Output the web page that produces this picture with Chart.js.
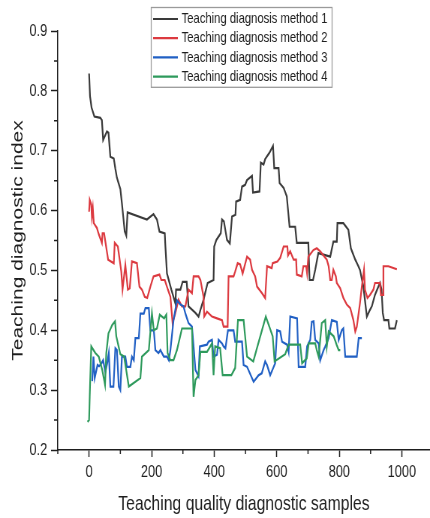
<!DOCTYPE html>
<html>
<head>
<meta charset="utf-8">
<title>Teaching diagnostic index</title>
<script src="https://cdn.jsdelivr.net/npm/chart.js@4.4.1/dist/chart.umd.min.js"></script>
<style>
  html, body { margin: 0; padding: 0; background: #fff; overflow: hidden; }
  #wrap { width: 430px; height: 518px; }
  /* the source figure is squeezed sideways, so the canvas is drawn wider and shown at 430px */
  #chart { display: block; width: 430px; height: 518px; }
</style>
</head>
<body>
<div id="wrap"><canvas id="chart" width="573" height="518" style="width:430px;height:518px"></canvas></div>
<script>
// series labels
const seriesNames = [
  'Teaching diagnosis method 1',
  'Teaching diagnosis method 2',
  'Teaching diagnosis method 3',
  'Teaching diagnosis method 4'
];
const seriesColors = ['#3a3a3a', '#dc3a40', '#2160c4', '#2e9a5c'];

// method 1 (black)
const m1X = [0, 3, 8, 17, 36, 41, 45, 57, 62, 68, 79, 84, 89, 100, 105, 114, 119, 123, 185, 206, 217, 225, 242, 244, 249, 263, 276, 278, 292, 299, 312, 318, 340, 350, 356, 366, 371, 379, 398, 400, 407, 421, 425, 431, 441, 450, 457, 468, 470, 483, 489, 499, 505, 521, 524, 545, 549, 558, 563, 577, 588, 592, 606, 609, 622, 632, 641, 659, 664, 701, 705, 716, 723, 733, 771, 781, 792, 794, 813, 829, 837, 851, 861, 866, 877, 888, 896, 904, 914, 925, 930, 935, 939, 943, 957, 960, 978, 984];
const m1Y = [0.829, 0.791, 0.772, 0.757, 0.755, 0.751, 0.718, 0.732, 0.730, 0.690, 0.687, 0.670, 0.655, 0.636, 0.612, 0.565, 0.558, 0.597, 0.585, 0.594, 0.585, 0.565, 0.562, 0.540, 0.495, 0.468, 0.445, 0.468, 0.468, 0.481, 0.481, 0.440, 0.429, 0.423, 0.434, 0.451, 0.462, 0.479, 0.484, 0.540, 0.551, 0.562, 0.585, 0.582, 0.551, 0.545, 0.590, 0.593, 0.615, 0.618, 0.640, 0.643, 0.651, 0.658, 0.630, 0.632, 0.680, 0.677, 0.686, 0.697, 0.708, 0.671, 0.671, 0.646, 0.638, 0.624, 0.573, 0.573, 0.546, 0.546, 0.484, 0.484, 0.501, 0.529, 0.523, 0.548, 0.548, 0.579, 0.579, 0.568, 0.537, 0.518, 0.507, 0.501, 0.473, 0.423, 0.432, 0.440, 0.459, 0.473, 0.479, 0.468, 0.429, 0.417, 0.417, 0.403, 0.403, 0.417];

// method 2 (red)
const m2X = [0, 2, 7, 9, 12, 15, 25, 30, 41, 43, 48, 61, 79, 82, 92, 103, 107, 116, 124, 130, 137, 153, 161, 169, 178, 186, 196, 206, 225, 231, 242, 252, 260, 267, 276, 286, 297, 308, 318, 329, 334, 350, 356, 366, 368, 377, 393, 409, 425, 430, 443, 446, 462, 467, 475, 483, 491, 505, 515, 521, 531, 537, 553, 563, 569, 584, 587, 602, 611, 622, 634, 636, 643, 654, 662, 664, 680, 685, 694, 697, 701, 717, 728, 739, 760, 766, 771, 776, 781, 789, 792, 803, 813, 824, 835, 845, 851, 856, 866, 872, 879, 882, 890, 898, 909, 914, 930, 933, 939, 941, 957, 984];
const m2Y = [0.598, 0.618, 0.610, 0.590, 0.604, 0.579, 0.571, 0.562, 0.546, 0.562, 0.562, 0.518, 0.512, 0.546, 0.540, 0.498, 0.468, 0.509, 0.468, 0.470, 0.515, 0.512, 0.473, 0.468, 0.456, 0.454, 0.473, 0.490, 0.493, 0.484, 0.484, 0.468, 0.456, 0.412, 0.429, 0.451, 0.440, 0.440, 0.468, 0.462, 0.490, 0.490, 0.484, 0.456, 0.423, 0.431, 0.423, 0.420, 0.417, 0.406, 0.406, 0.490, 0.490, 0.498, 0.512, 0.510, 0.495, 0.523, 0.518, 0.501, 0.490, 0.473, 0.462, 0.454, 0.507, 0.504, 0.512, 0.515, 0.521, 0.540, 0.540, 0.525, 0.532, 0.518, 0.518, 0.493, 0.490, 0.507, 0.507, 0.495, 0.523, 0.534, 0.537, 0.532, 0.518, 0.507, 0.484, 0.484, 0.501, 0.490, 0.479, 0.470, 0.454, 0.443, 0.437, 0.417, 0.398, 0.406, 0.445, 0.473, 0.501, 0.468, 0.454, 0.459, 0.468, 0.479, 0.479, 0.459, 0.459, 0.507, 0.507, 0.502];

// method 3 (blue)
const m3X = [10, 14, 18, 27, 32, 40, 45, 52, 58, 63, 68, 78, 84, 89, 95, 100, 105, 116, 121, 132, 137, 143, 148, 159, 164, 175, 180, 191, 196, 207, 212, 222, 228, 239, 249, 255, 260, 270, 281, 292, 302, 308, 318, 329, 340, 350, 354, 377, 382, 393, 398, 409, 414, 425, 430, 436, 444, 462, 467, 489, 494, 505, 526, 542, 552, 563, 569, 579, 595, 601, 611, 617, 633, 638, 643, 665, 670, 691, 697, 707, 712, 718, 723, 734, 739, 750, 755, 766, 776, 792, 798, 808, 813, 819, 856, 862, 872];
const m3Y = [0.315, 0.356, 0.320, 0.342, 0.340, 0.345, 0.350, 0.330, 0.345, 0.362, 0.306, 0.306, 0.370, 0.367, 0.306, 0.300, 0.356, 0.356, 0.339, 0.339, 0.356, 0.350, 0.387, 0.387, 0.428, 0.428, 0.437, 0.437, 0.400, 0.400, 0.367, 0.362, 0.367, 0.356, 0.356, 0.350, 0.367, 0.417, 0.450, 0.443, 0.440, 0.428, 0.412, 0.406, 0.334, 0.323, 0.373, 0.376, 0.381, 0.384, 0.356, 0.359, 0.384, 0.378, 0.373, 0.370, 0.400, 0.400, 0.381, 0.381, 0.342, 0.339, 0.314, 0.325, 0.328, 0.348, 0.342, 0.325, 0.345, 0.400, 0.398, 0.381, 0.376, 0.364, 0.423, 0.420, 0.339, 0.339, 0.373, 0.384, 0.414, 0.415, 0.384, 0.378, 0.350, 0.367, 0.373, 0.387, 0.417, 0.414, 0.384, 0.400, 0.403, 0.356, 0.356, 0.387, 0.387];

// method 4 (green)
const m4X = [-5, 0, 2, 7, 20, 31, 42, 51, 55, 62, 74, 83, 87, 100, 112, 127, 164, 169, 191, 201, 207, 217, 226, 240, 247, 251, 260, 270, 281, 297, 329, 334, 340, 350, 356, 377, 393, 398, 403, 419, 427, 455, 467, 476, 494, 505, 525, 535, 565, 587, 593, 627, 638, 675, 681, 696, 702, 723, 728, 734, 744, 755, 760, 766, 782, 792, 798, 803];
const m4Y = [0.247, 0.250, 0.289, 0.373, 0.362, 0.356, 0.334, 0.309, 0.362, 0.395, 0.409, 0.415, 0.390, 0.360, 0.356, 0.306, 0.320, 0.356, 0.367, 0.428, 0.400, 0.403, 0.426, 0.420, 0.426, 0.362, 0.350, 0.350, 0.367, 0.403, 0.403, 0.289, 0.317, 0.325, 0.364, 0.364, 0.378, 0.325, 0.373, 0.370, 0.325, 0.325, 0.337, 0.417, 0.417, 0.356, 0.348, 0.367, 0.423, 0.390, 0.348, 0.360, 0.376, 0.376, 0.345, 0.353, 0.378, 0.378, 0.367, 0.356, 0.412, 0.417, 0.373, 0.398, 0.390, 0.375, 0.367, 0.367];

// axis ticks
const xTicks = [0, 200, 400, 600, 800, 1000];
const xMinorTicks = [-100, 100, 300, 500, 700, 900];
const yTicks = [0.2, 0.3, 0.4, 0.5, 0.6, 0.7, 0.8, 0.9];
const yMinorTicks = [0.25, 0.35, 0.45, 0.55, 0.65, 0.75, 0.85];

const SANS = "'Liberation Sans', Arial, sans-serif";
const AXIS = '#1e1e1e';

const seriesX = [m1X, m2X, m3X, m4X];
const seriesY = [m1Y, m2Y, m3Y, m4Y];

const datasets = seriesNames.map((name, i) => ({
  label: name,
  data: seriesX[i].map((x, k) => ({ x: x, y: seriesY[i][k] })),
  borderColor: seriesColors[i],
  backgroundColor: seriesColors[i],
  borderWidth: 2.2,
  pointRadius: 0,
  tension: 0,
  fill: false,
  order: 4 - i
}));

// small outward ticks between the labelled ones
const minorTicks = {
  id: 'minorTicks',
  afterDraw(chart) {
    const { ctx, scales: { x, y }, chartArea } = chart;
    ctx.save();
    ctx.strokeStyle = AXIS;
    ctx.lineWidth = 1.5;
    ctx.beginPath();
    xMinorTicks.forEach(v => {
      const px = x.getPixelForValue(v);
      ctx.moveTo(px, chartArea.bottom);
      ctx.lineTo(px, chartArea.bottom + 4);
    });
    yMinorTicks.forEach(v => {
      const py = y.getPixelForValue(v);
      ctx.moveTo(chartArea.left, py);
      ctx.lineTo(chartArea.left - 5, py);
    });
    ctx.stroke();
    ctx.restore();
  }
};

// boxed legend in the upper part of the plot
const boxLegend = {
  id: 'boxLegend',
  afterDraw(chart) {
    const ctx = chart.ctx;
    const left = 201, top = 7, width = 241, rowH = 19.2;
    const height = rowH * chart.data.datasets.length + 3;
    ctx.save();
    ctx.fillStyle = '#fff';
    ctx.fillRect(left, top, width, height);
    ctx.strokeStyle = '#9a9a9a';
    ctx.lineWidth = 1.3;
    ctx.strokeRect(left + 0.5, top + 0.5, width, height);
    ctx.font = '15px ' + SANS;
    ctx.textBaseline = 'middle';
    ctx.fillStyle = '#1e1e1e';
    chart.data.datasets.forEach((ds, i) => {
      const cy = top + 12 + i * rowH;
      ctx.strokeStyle = ds.borderColor;
      ctx.lineWidth = 2.2;
      ctx.beginPath();
      ctx.moveTo(left + 3, cy);
      ctx.lineTo(left + 36, cy);
      ctx.stroke();
      ctx.fillText(ds.label, left + 41, cy);
    });
    ctx.restore();
  }
};

const chart = new Chart(document.getElementById('chart'), {
  type: 'line',
  data: { datasets: datasets },
  options: {
    responsive: false,
    animation: false,
    layout: { padding: { top: 31, right: 0, left: 0, bottom: 0 } },
    plugins: {
      legend: { display: false },
      tooltip: { enabled: false }
    },
    scales: {
      x: {
        type: 'linear',
        min: -100,
        max: 1090,
        afterBuildTicks: s => { s.ticks = xTicks.map(v => ({ value: v })); },
        afterFit: s => { s.height = 68; },
        ticks: {
          font: { family: SANS, size: 17 },
          color: AXIS,
          padding: 5,
          maxRotation: 0,
          autoSkip: false,
          callback: v => String(v)
        },
        grid: { drawOnChartArea: false, drawTicks: true, tickLength: 7, tickColor: AXIS, tickWidth: 1.5 },
        border: { display: true, color: AXIS, width: 1.5 },
        title: {
          display: true,
          text: 'Teaching quality diagnostic samples',
          font: { family: SANS, size: 21 },
          color: AXIS,
          padding: { top: 0, bottom: 1 }
        }
      },
      y: {
        type: 'linear',
        min: 0.2,
        max: 0.9,
        afterBuildTicks: s => { s.ticks = yTicks.map(v => ({ value: v })); },
        afterFit: s => { s.width = 77; },
        ticks: {
          font: { family: SANS, size: 17 },
          color: AXIS,
          padding: 5,
          callback: v => v.toFixed(1)
        },
        grid: { drawOnChartArea: false, drawTicks: true, tickLength: 9, tickColor: AXIS, tickWidth: 1.5 },
        border: { display: true, color: AXIS, width: 1.5 },
        title: {
          display: true,
          text: 'Teaching diagnostic index',
          font: { family: SANS, size: 21 },
          color: AXIS,
          padding: { top: 12, bottom: 0 }
        }
      }
    }
  },
  plugins: [minorTicks, boxLegend]
});
chart.canvas.style.width = '430px';
chart.canvas.style.height = '518px';
</script>
</body>
</html>
